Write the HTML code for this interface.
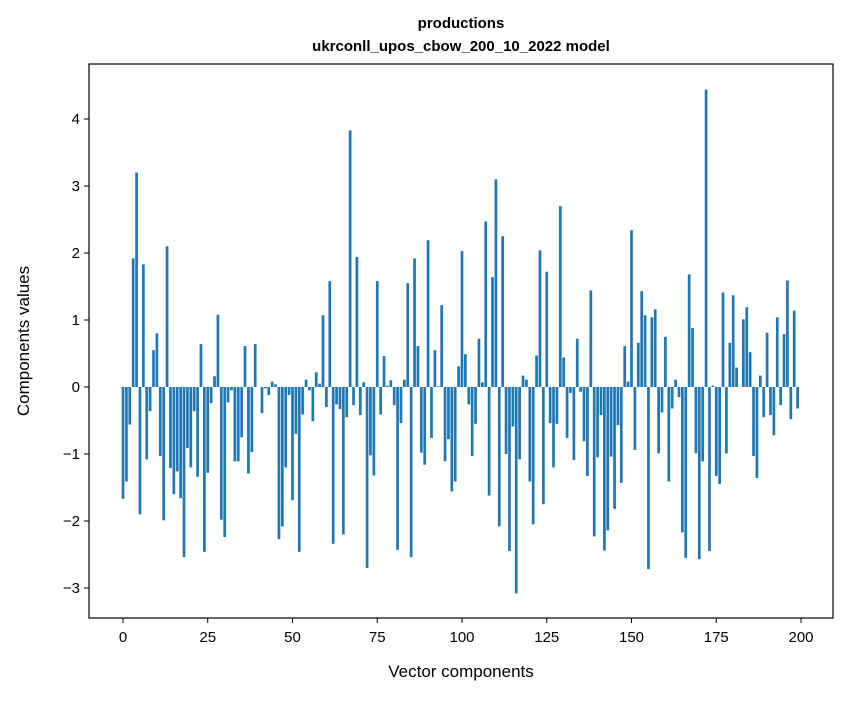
<!DOCTYPE html>
<html><head><meta charset="utf-8"><style>
body{margin:0;background:#fff}
text{font-family:"Liberation Sans","DejaVu Sans",sans-serif;fill:#000}
</style></head><body>
<svg width="847" height="696" xmlns="http://www.w3.org/2000/svg">
<rect width="847" height="696" fill="#fff"/>
<text x="461" y="28" text-anchor="middle" font-size="15" font-weight="bold">productions</text>
<text x="461" y="51" text-anchor="middle" font-size="15" font-weight="bold">ukrconll_upos_cbow_200_10_2022 model</text>
<g id="bars"></g>
<g id="axes"></g>
<rect x="89" y="64" width="744" height="554" fill="none" stroke="#000" stroke-width="1.2"/>
<text x="461" y="677" text-anchor="middle" font-size="17">Vector components</text>
<text transform="translate(29,341) rotate(-90)" text-anchor="middle" font-size="17">Components values</text>
</svg>
<script>
const values = [
-1.67,-1.41,-0.56,1.92,3.2,-1.9,1.83,-1.08,-0.36,0.55,
0.8,-1.03,-1.99,2.1,-1.21,-1.6,-1.26,-1.66,-2.54,-0.91,
-1.2,-0.36,-1.34,0.64,-2.46,-1.28,-0.24,0.16,1.08,-1.98,
-2.24,-0.23,-0.05,-1.11,-1.11,-0.75,0.61,-1.29,-0.97,0.64,
0.0,-0.39,-0.02,-0.12,0.08,0.04,-2.27,-2.08,-1.2,-0.12,
-1.69,-0.7,-2.46,-0.41,0.11,-0.05,-0.51,0.22,0.05,1.07,
-0.3,1.58,-2.34,-0.26,-0.33,-2.2,-0.45,3.83,-0.27,1.94,
-0.42,0.07,-2.7,-1.02,-1.32,1.58,-0.41,0.46,0.02,0.1,
-0.27,-2.43,-0.54,0.11,1.55,-2.54,1.92,0.61,-0.98,-1.16,
2.19,-0.76,0.55,0.01,1.22,-1.11,-0.78,-1.56,-1.41,0.31,
2.03,0.49,-0.26,-1.03,-0.55,0.72,0.07,2.47,-1.62,1.64,
3.1,-2.08,2.25,-1.0,-2.45,-0.59,-3.08,-1.08,0.17,0.11,
-1.41,-2.05,0.47,2.04,-1.75,1.72,-0.54,-1.2,-0.55,2.7,
0.44,-0.76,-0.09,-1.09,0.72,-0.07,-0.81,-1.33,1.44,-2.23,
-1.05,-0.42,-2.44,-2.14,-1.04,-1.82,-0.57,-1.43,0.61,0.08,
2.34,-0.94,0.66,1.43,1.07,-2.72,1.04,1.16,-0.99,-0.38,
0.75,-1.41,-0.32,0.11,-0.15,-2.17,-2.55,1.68,0.88,-0.99,
-2.57,-1.11,4.44,-2.45,0.02,-1.33,-1.45,1.41,-0.99,0.66,
1.37,0.29,0.0,1.01,1.19,0.52,-1.03,-1.36,0.17,-0.45,
0.81,-0.42,-0.72,1.04,-0.27,0.79,1.59,-0.48,1.14,-0.32];
const xTicks = [0,25,50,75,100,125,150,175,200];
const yTicks = [-3,-2,-1,0,1,2,3,4];
const NS="http://www.w3.org/2000/svg";
function xs(v){return 123+v*3.39;}
function ys(v){return 387-v*67;}
const bars=document.getElementById('bars');
values.forEach((v,i)=>{
 const r=document.createElementNS(NS,'rect');
 const y0=ys(0), y1=ys(v);
 r.setAttribute('x',xs(i-0.4));
 r.setAttribute('width',3.39*0.8);
 r.setAttribute('y',Math.min(y0,y1));
 r.setAttribute('height',Math.abs(y1-y0));
 r.setAttribute('fill','#1f77b4');
 
 
 bars.appendChild(r);
});
const axes=document.getElementById('axes');
xTicks.forEach(t=>{
 const l=document.createElementNS(NS,'line');
 l.setAttribute('x1',xs(t));l.setAttribute('x2',xs(t));
 l.setAttribute('y1',618);l.setAttribute('y2',623);
 l.setAttribute('stroke','#000');
 
 
 axes.appendChild(l);
 const tx=document.createElementNS(NS,'text');
 tx.setAttribute('x',xs(t));tx.setAttribute('y',642);
 tx.setAttribute('text-anchor','middle');tx.setAttribute('font-size','15');
 tx.textContent=t;
 
 
 axes.appendChild(tx);
});
yTicks.forEach(t=>{
 const l=document.createElementNS(NS,'line');
 l.setAttribute('x1',84);l.setAttribute('x2',89);
 l.setAttribute('y1',ys(t));l.setAttribute('y2',ys(t));
 l.setAttribute('stroke','#000');
 
 
 axes.appendChild(l);
 const tx=document.createElementNS(NS,'text');
 tx.setAttribute('x',80);tx.setAttribute('y',ys(t)+5);
 tx.setAttribute('text-anchor','end');tx.setAttribute('font-size','15');
 tx.textContent=t<0?'\u2212'+Math.abs(t):String(t);
 
 
 axes.appendChild(tx);
});
</script>
</body></html>
